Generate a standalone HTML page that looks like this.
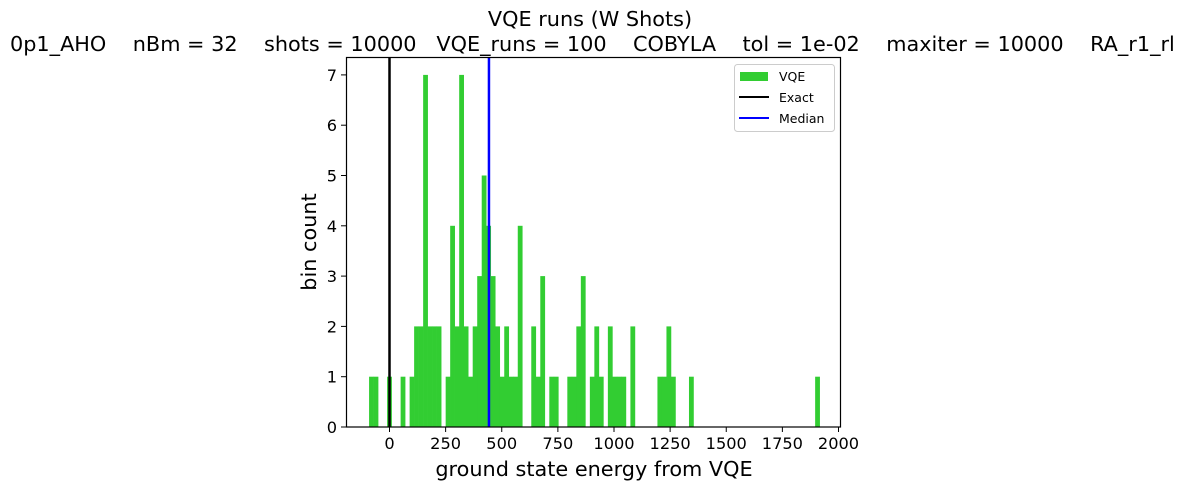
<!DOCTYPE html>
<html><head><meta charset="utf-8"><style>
body{margin:0;background:#fff;}
svg text{font-family:"DejaVu Sans","Liberation Sans",sans-serif;fill:#000;}
</style></head><body>
<svg id="chart" width="1188" height="490" xmlns="http://www.w3.org/2000/svg">
<rect width="1188" height="490" fill="#fff"/>
<text x="590" y="26" font-size="20.8" text-anchor="middle">VQE runs (W Shots)</text>
<text x="10" y="51" font-size="20.8" xml:space="preserve">0p1_AHO    nBm = 32    shots = 10000   VQE_runs = 100    COBYLA    tol = 1e-02    maxiter = 10000    RA_r1_rl</text>
<g id="bars"></g>
<g id="vlines"></g>
<rect x="346.5" y="57.5" width="494" height="369.5" fill="none" stroke="#000" stroke-width="1.2"/>
<g id="xticks"></g>
<g id="yticks"></g>
<text x="594" y="476" font-size="20.8" text-anchor="middle">ground state energy from VQE</text>
<text transform="translate(316,242) rotate(-90)" font-size="20.8" text-anchor="middle">bin count</text>
<g>
<rect x="734.5" y="64.5" width="100" height="67" rx="3" fill="#fff" stroke="#ccc"/>
<rect x="740" y="72" width="28" height="9" fill="#32cd32"/>
<text x="779" y="81" font-size="12.5">VQE</text>
<line x1="739" y1="97" x2="769" y2="97" stroke="#000" stroke-width="2"/>
<text x="779" y="102" font-size="12.5">Exact</text>
<line x1="739" y1="118" x2="769" y2="118" stroke="#0000ff" stroke-width="2"/>
<text x="779" y="123" font-size="12.5">Median</text>
</g>
</svg>
<script>
const binStart = -91;
const binWidth = 20.07;
const counts = [1,1,0,0,1,0,0,1,0,1, 2,2,7,2,2,2,0,1,4,2, 7,2,1,2,3,5,4,3,2,1, 2,1,1,4,0,0,2,1,3,0, 1,1,0,0,1,1,2,3,0,1, 2,1,0,2,1,1,1,0,2,0, 0,0,0,0,1,1,2,1,0,0, 0,1,0,0,0,0,0,0,0,0, 0,0,0,0,0,0,0,0,0,0, 0,0,0,0,0,0,0,0,0,1];
const exactValue = 0;
const medianValue = 443;
const xTicks = [0,250,500,750,1000,1250,1500,1750,2000];
const yTicks = [0,1,2,3,4,5,6,7];
const NS = "http://www.w3.org/2000/svg";
function X(v){return 389.5 + v*0.2245;}
function Y(v){return 427 - v*50.3;}
function mk(tag, attrs, parent){const e=document.createElementNS(NS,tag);for(const k in attrs)e.setAttribute(k,attrs[k]);parent.appendChild(e);return e;}
const bars=document.getElementById('bars');
counts.forEach((c,i)=>{
  if(c<=0) return;
  const x0=X(binStart+i*binWidth), x1=X(binStart+(i+1)*binWidth);
  const r=mk('rect',{x:x0,y:Y(c),width:x1-x0+0.3,height:Y(0)-Y(c),fill:'#32cd32'},bars);
  
  
});
const vl=document.getElementById('vlines');
const ex=mk('line',{x1:X(exactValue),x2:X(exactValue),y1:57.5,y2:427,stroke:'#000','stroke-width':2.5},vl);


const md=mk('line',{x1:X(medianValue),x2:X(medianValue),y1:57.5,y2:427,stroke:'#0000ff','stroke-width':2.5},vl);


const xt=document.getElementById('xticks');
xTicks.forEach(v=>{
  mk('line',{x1:X(v),x2:X(v),y1:427,y2:432,stroke:'#000'},xt);
  const t=mk('text',{x:X(v),y:449,'font-size':16.2,'text-anchor':'middle'},xt);
  t.textContent=v;
  
  
});
const yt=document.getElementById('yticks');
yTicks.forEach(v=>{
  mk('line',{x1:341,x2:346.5,y1:Y(v),y2:Y(v),stroke:'#000'},yt);
  const t=mk('text',{x:337,y:Y(v)+6,'font-size':16.2,'text-anchor':'end'},yt);
  t.textContent=v;
  
  
});
</script>
</body></html>
